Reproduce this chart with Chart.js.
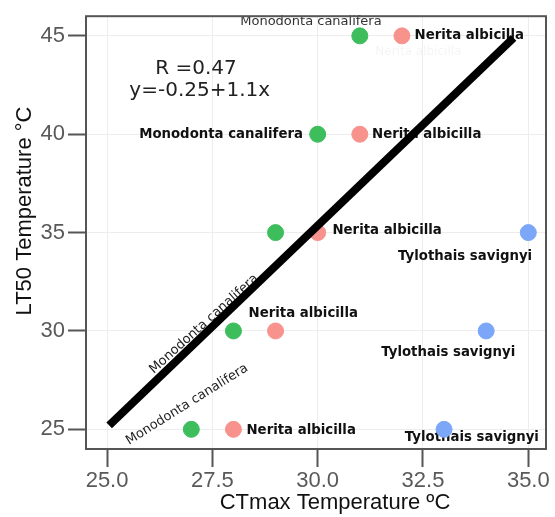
<!DOCTYPE html>
<html>
<head>
<meta charset="utf-8">
<script src="https://cdn.jsdelivr.net/npm/chart.js@4.4.0/dist/chart.umd.min.js"></script>
<style>
  html, body { margin: 0; padding: 0; background: #fff; }
</style>
</head>
<body>
<canvas id="lt50Chart" width="555" height="517"></canvas>
<script>
// data
var species = ['Monodonta canalifera', 'Nerita albicilla', 'Tylothais savignyi'];
var monodontaCT = [27, 28, 29, 30, 31];
var monodontaLT = [25, 30, 35, 40, 45];
var neritaCT = [28, 29, 30, 31, 32];
var neritaLT = [25, 30, 35, 40, 45];
var tylothaisCT = [33, 34, 35];
var tylothaisLT = [25, 30, 35];
// regression line end points
var fitCT = [25.05, 34.65];
var fitLT = [25.2, 44.9];
var xTicks = [25, 27.5, 30, 32.5, 35];
var yTicks = [25, 30, 35, 40, 45];

function toPoints(xs, ys) {
  return xs.map(function(v, i) { return { x: v, y: ys[i] }; });
}

var boldFont = 'bold 13.3px "DejaVu Sans"';
var thinFont = '13px "DejaVu Sans"';

// text labels placed in data coordinates
var notes = [
  { text: 'Monodonta canalifera', x: 29.84, y: 45.7, font: thinFont, color: '#333', align: 'center' },
  { text: species[1], x: 32.3, y: 45, font: boldFont, color: '#111', align: 'left' },
  { text: species[1], x: 32.39, y: 44.19, font: '12px "DejaVu Sans"', color: 'rgba(120,120,120,0.08)', align: 'center' },
  { text: 'R =0.47', x: 27.11, y: 43.33, font: '20px "DejaVu Sans"', color: '#222', align: 'center' },
  { text: 'y=-0.25+1.1x', x: 27.2, y: 42.2, font: '20px "DejaVu Sans"', color: '#222', align: 'center' },
  { text: species[0], x: 29.65, y: 40, font: boldFont, color: '#111', align: 'right' },
  { text: species[1], x: 31.29, y: 40, font: boldFont, color: '#111', align: 'left' },
  { text: species[1], x: 30.35, y: 35.1, font: boldFont, color: '#111', align: 'left' },
  { text: species[2], x: 33.5, y: 33.79, font: boldFont, color: '#111', align: 'center' },
  { text: species[1], x: 28.36, y: 30.9, font: boldFont, color: '#111', align: 'left' },
  { text: species[2], x: 33.1, y: 28.9, font: boldFont, color: '#111', align: 'center' },
  { text: species[1], x: 28.31, y: 24.95, font: boldFont, color: '#111', align: 'left' },
  { text: species[2], x: 33.66, y: 24.6, font: boldFont, color: '#111', align: 'center' },
  { text: species[0], x: 27.3, y: 30.35, font: thinFont, color: '#222', align: 'center', rot: -42 },
  { text: species[0], x: 26.9, y: 26.26, font: thinFont, color: '#222', align: 'center', rot: -32 }
];

// draw the species labels under the points and the fit line
var labelPlugin = {
  id: 'speciesLabels',
  beforeDatasetsDraw: function(chart) {
    var ctx = chart.ctx;
    var xs = chart.scales.x, ys = chart.scales.y;
    notes.forEach(function(n) {
      ctx.save();
      ctx.translate(xs.getPixelForValue(n.x), ys.getPixelForValue(n.y));
      if (n.rot) ctx.rotate(n.rot * Math.PI / 180);
      ctx.font = n.font;
      ctx.fillStyle = n.color;
      ctx.textAlign = n.align;
      ctx.textBaseline = 'middle';
      ctx.fillText(n.text, 0, 0);
      ctx.restore();
    });
  }
};

// panel frame and axis titles
var framePlugin = {
  id: 'frameAndTitles',
  afterDraw: function(chart) {
    var ctx = chart.ctx, a = chart.chartArea;
    ctx.save();
    ctx.strokeStyle = '#555';
    ctx.lineWidth = 2;
    ctx.strokeRect(a.left, a.top, a.right - a.left, a.bottom - a.top);

    ctx.fillStyle = '#111';
    ctx.font = '22px "Liberation Sans"';
    ctx.textAlign = 'center';
    ctx.textBaseline = 'middle';
    ctx.fillText('CTmax Temperature \u00BAC', 335, 503);

    ctx.translate(25, 211);
    ctx.rotate(-Math.PI / 2);
    ctx.fillText('LT50 Temperature \u00B0C', 0, 0);
    ctx.restore();
  }
};

var tickFont = { family: 'Liberation Sans', size: 22 };

var ctx = document.getElementById('lt50Chart').getContext('2d');
var lt50Chart = new Chart(ctx, {
  type: 'scatter',
  data: {
    datasets: [
      {
        label: 'fit',
        data: toPoints(fitCT, fitLT),
        showLine: true,
        borderColor: '#000',
        borderWidth: 8,
        borderCapStyle: 'butt',
        pointRadius: 0,
        order: 0
      },
      {
        label: species[0],
        data: toPoints(monodontaCT, monodontaLT),
        backgroundColor: '#3dbd5c',
        borderColor: '#3dbd5c',
        pointRadius: 8,
        order: 1
      },
      {
        label: species[1],
        data: toPoints(neritaCT, neritaLT),
        backgroundColor: '#f8928d',
        borderColor: '#f8928d',
        pointRadius: 8,
        order: 1
      },
      {
        label: species[2],
        data: toPoints(tylothaisCT, tylothaisLT),
        backgroundColor: '#7ca6f7',
        borderColor: '#7ca6f7',
        pointRadius: 8,
        order: 1
      }
    ]
  },
  options: {
    responsive: false,
    animation: false,
    layout: { padding: { top: 13, right: 4, left: 0, bottom: 0 } },
    plugins: {
      legend: { display: false },
      tooltip: { enabled: false }
    },
    scales: {
      x: {
        type: 'linear',
        min: 24.5,
        max: 35.42,
        afterBuildTicks: function(scale) {
          scale.ticks = xTicks.map(function(v) { return { value: v }; });
        },
        afterFit: function(scale) { scale.height = 68; },
        ticks: {
          callback: function(v) { return v.toFixed(1); },
          font: tickFont,
          color: '#595959',
          padding: 1,
          maxRotation: 0,
          autoSkip: false
        },
        grid: { color: '#ededed', tickColor: '#555', tickLength: 18, tickWidth: 2 },
        border: { display: false }
      },
      y: {
        type: 'linear',
        min: 24,
        max: 46,
        afterBuildTicks: function(scale) {
          scale.ticks = yTicks.map(function(v) { return { value: v }; });
        },
        afterFit: function(scale) { scale.width = 86; },
        ticks: {
          font: tickFont,
          color: '#595959',
          padding: 3,
          autoSkip: false
        },
        grid: { color: '#ededed', tickColor: '#555', tickLength: 18, tickWidth: 2 },
        border: { display: false }
      }
    }
  },
  plugins: [labelPlugin, framePlugin]
});
</script>
</body>
</html>
